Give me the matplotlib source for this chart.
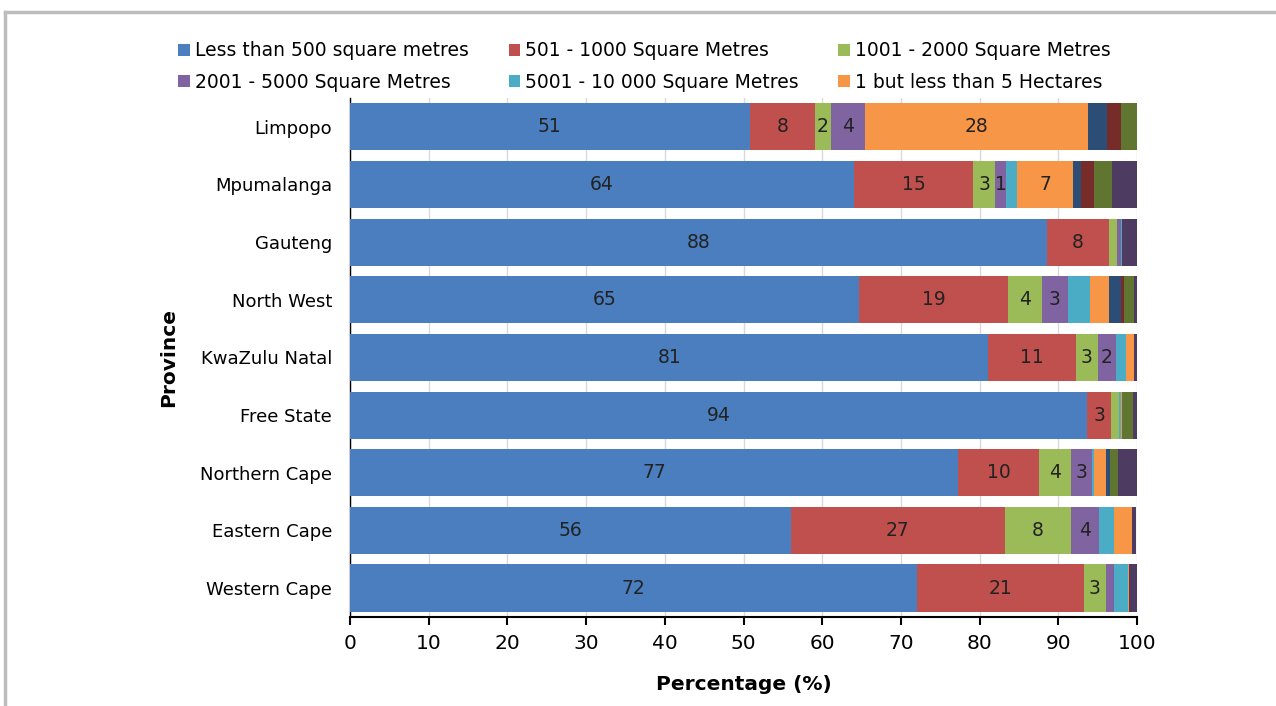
#!/usr/bin/env python3
"""Stacked horizontal bars: plot sizes by province."""

import numpy as np
import matplotlib.pyplot as plt
from matplotlib.lines import Line2D

provinces = ['Limpopo', 'Mpumalanga', 'Gauteng', 'North West', 'KwaZulu Natal',
             'Free State', 'Northern Cape', 'Eastern Cape', 'Western Cape']

categories = ['Less than 500 square metres', '501 - 1000 Square Metres',
              '1001 - 2000 Square Metres', '2001 - 5000 Square Metres',
              '5001 - 10 000 Square Metres', '1 but less than 5 Hectares',
              'Class 7', 'Class 8', 'Class 9', 'Class 10']

# one list per size class, in province order
less_500   = [50.8, 64.0, 88.5, 64.7, 81.1, 93.7, 77.3, 56.0, 72.0]
s501_1000  = [8.3, 15.2, 7.9, 18.9, 11.1, 3.0, 10.2, 27.2, 21.2]
s1001_2000 = [2.0, 2.8, 1.0, 4.3, 2.8, 1.0, 4.1, 8.4, 2.8]
s2001_5000 = [4.3, 1.4, 0.5, 3.3, 2.3, 0.0, 2.7, 3.6, 1.1]
s5001_10k  = [0.0, 1.4, 0.2, 2.8, 1.3, 0.2, 0.2, 1.9, 1.7]
ha_1_5     = [28.4, 7.1, 0.0, 2.4, 1.0, 0.2, 1.5, 2.3, 0.2]
class_7    = [2.4, 1.0, 0.0, 1.5, 0.0, 0.0, 0.6, 0.0, 0.0]
class_8    = [1.8, 1.6, 0.0, 0.4, 0.0, 0.0, 0.0, 0.0, 0.0]
class_9    = [2.0, 2.3, 0.0, 1.3, 0.0, 1.4, 1.0, 0.0, 0.0]
class_10   = [0.0, 3.2, 1.9, 0.4, 0.4, 0.5, 2.4, 0.5, 1.0]

series = [less_500, s501_1000, s1001_2000, s2001_5000, s5001_10k,
          ha_1_5, class_7, class_8, class_9, class_10]

colors = ['#4a7ebf', '#c0504d', '#9bbb59', '#8064a2', '#4bacc6',
          '#f79646', '#2c4d75', '#772c2a', '#5f7530', '#4d3b62']

plt.rcParams['font.family'] = ['DejaVu Sans']

fig = plt.figure(figsize=(12.76, 7.06), dpi=100)
ax = fig.add_axes([0.2743, 0.1261, 0.6168, 0.7351])

y = np.arange(len(provinces))
left = np.zeros(len(provinces))
handles = []
for i, (vals, color) in enumerate(zip(series, colors)):
    vals = np.array(vals)
    bars = ax.barh(y, vals, left=left, height=0.82, color=color, zorder=3)
    handles.append(bars)
    for yy, v, l in zip(y, vals, left):
        # only the first four classes and the large hectare values carry labels
        show = (i < 4 and v >= 1.25) or (i == 5 and v >= 5)
        if show:
            ax.text(l + v / 2, yy, '%d' % round(v), ha='center', va='center',
                    fontsize=13.5, color='#222222', zorder=4)
    left += vals

ax.set_xlim(0, 100)
ax.set_ylim(len(provinces) - 0.5, -0.5)
ax.set_yticks(y)
ax.set_yticklabels(provinces, fontsize=13)
ax.set_xticks(np.arange(0, 101, 10))
ax.tick_params(axis='x', labelsize=14.5, length=6, width=1.5, pad=6)
ax.tick_params(axis='y', length=0, pad=13)
ax.grid(axis='x', color='#d9d9d9', linewidth=1, zorder=0)
for s in ['top', 'right']:
    ax.spines[s].set_visible(False)
ax.spines['bottom'].set_linewidth(1.5)
ax.spines['left'].set_linewidth(1.0)

ax.set_xlabel('Percentage (%)', fontsize=14.5, fontweight='bold', labelpad=16)
ax.set_ylabel('Province', fontsize=14.5, fontweight='bold', labelpad=16)

# legend fills column by column, so reorder to read across rows
order = [0, 3, 1, 4, 2, 5]
fig.legend([handles[k] for k in order], [categories[k] for k in order],
           loc='upper left', ncol=3,
           bbox_to_anchor=(0.134, 0.952), frameon=False, fontsize=13.5,
           handlelength=0.6, handleheight=0.6, handletextpad=0.3,
           columnspacing=2.1, labelspacing=0.65, borderaxespad=0)

# gray frame round the figure
fig.add_artist(Line2D([5 / 1276, 5 / 1276], [0, 1 - 12 / 706],
                      color='#bdbdbd', linewidth=2.5))
fig.add_artist(Line2D([5 / 1276, 1], [1 - 12 / 706, 1 - 12 / 706],
                      color='#bdbdbd', linewidth=2.5))

fig.savefig('out.png', dpi=100)
